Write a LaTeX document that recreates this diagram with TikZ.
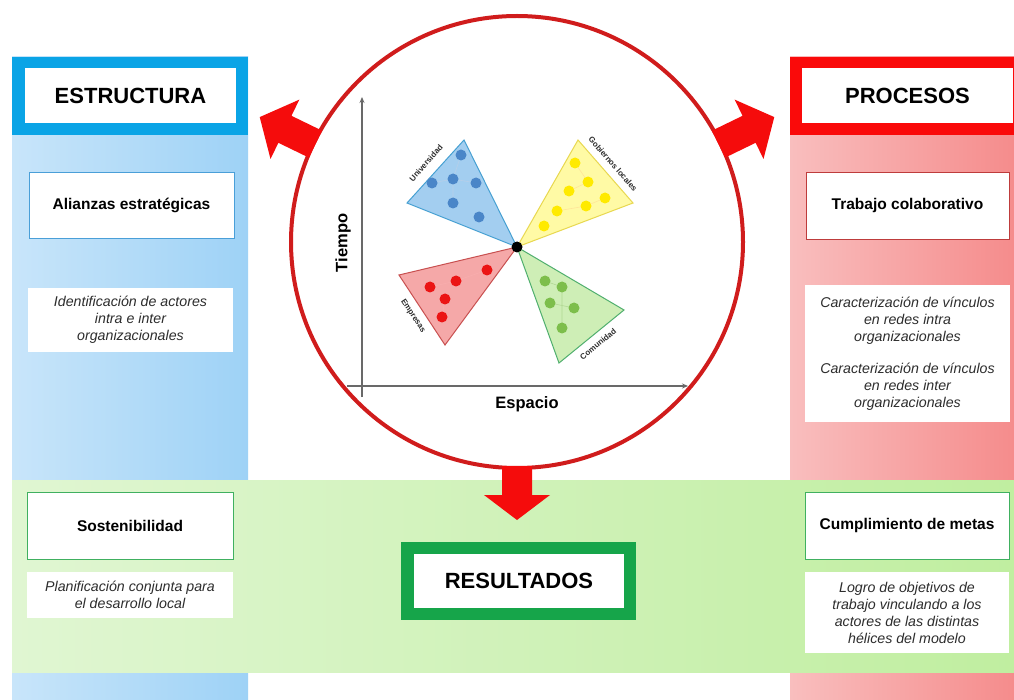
\documentclass[tikz,border=0pt]{standalone}
\usepackage{fontspec}
\setmainfont{Liberation Sans}
\usetikzlibrary{arrows.meta}

\definecolor{bluehead}{RGB}{10,164,230}
\definecolor{bluelight}{RGB}{200,229,250}
\definecolor{bluemid}{RGB}{158,210,246}
\definecolor{blueedge}{RGB}{74,159,216}
\definecolor{redhead}{RGB}{250,10,10}
\definecolor{redlight}{RGB}{249,190,190}
\definecolor{redmid}{RGB}{245,140,140}
\definecolor{rededge}{RGB}{190,60,60}
\definecolor{greenlight}{RGB}{224,246,210}
\definecolor{greenmid}{RGB}{192,238,160}
\definecolor{greenedge}{RGB}{64,176,96}
\definecolor{greenhead}{RGB}{22,165,74}
\definecolor{ringred}{RGB}{208,28,28}
\definecolor{arrowred}{RGB}{245,12,12}
\definecolor{axisgray}{RGB}{105,105,105}
\definecolor{notegray}{RGB}{45,45,45}
% helix wedges
\definecolor{ufill}{RGB}{163,206,240}\definecolor{uedge}{RGB}{70,160,210}\definecolor{udot}{RGB}{74,134,200}
\definecolor{gfill}{RGB}{255,250,165}\definecolor{gedge}{RGB}{232,216,80}\definecolor{gdot}{RGB}{255,234,0}
\definecolor{efill}{RGB}{245,168,168}\definecolor{eedge}{RGB}{200,80,80}\definecolor{edot}{RGB}{235,20,20}
\definecolor{cfill}{RGB}{206,238,182}\definecolor{cedge}{RGB}{80,175,110}\definecolor{cdot}{RGB}{125,190,75}

\begin{document}
\begin{tikzpicture}[x=1pt,y=-1pt,
  whitebox/.style={fill=white,inner sep=0pt,align=center},
  headtext/.style={font=\fontsize{22}{26}\selectfont\bfseries},
  itemtext/.style={font=\fontsize{15.5}{18}\selectfont\bfseries},
  notetext/.style={font=\fontsize{14.2}{17}\selectfont\itshape,text=notegray},
  wedgelabel/.style={font=\fontsize{8}{9}\selectfont\bfseries,text=notegray,inner sep=0pt},
  axislabel/.style={font=\fontsize{16.5}{19}\selectfont\bfseries},
  bigarrow/.style={fill=arrowred},
  dot/.style={radius=5.5}]

\useasboundingbox (0,0) rectangle (1014,700);
\fill[white] (0,0) rectangle (1014,700);

% side columns
\shade[left color=bluelight,right color=bluemid] (12,57) rectangle (248,700);
\fill[bluehead] (12,57) rectangle (248,135);
\shade[left color=redlight,right color=redmid] (790,57) rectangle (1014,700);
\fill[redhead] (790,57) rectangle (1014,135);

% results band
\shade[left color=greenlight,right color=greenmid] (12,480) rectangle (1014,672);

% column headers
\node[whitebox,headtext,minimum width=211,minimum height=55] (estr) at (130.5,95.5) {ESTRUCTURA};
\node[whitebox,headtext,minimum width=211,minimum height=55] (proc) at (907.5,95.5) {PROCESOS};

% estructura items
\node[whitebox,itemtext,draw=blueedge,line width=0.9,minimum width=205,minimum height=66] (alian) at (131.5,205) {Alianzas estratégicas};
\node[whitebox,notetext,minimum width=205,minimum height=64] (ident) at (130.5,320)
  {Identificación de actores\\intra e inter\\organizacionales};

% procesos items
\node[whitebox,itemtext,draw=rededge,line width=0.9,minimum width=203,minimum height=67] (trab) at (907.5,205.5) {Trabajo colaborativo};
\node[whitebox,notetext,minimum width=205,minimum height=137] (carac) at (907.5,353.5)
  {Caracterización de vínculos\\en redes intra\\organizacionales\\[15pt]Caracterización de vínculos\\en redes inter\\organizacionales};

% resultados items
\node[whitebox,itemtext,draw=greenedge,line width=0.9,minimum width=206,minimum height=67] (sost) at (130,525.5) {Sostenibilidad};
\node[whitebox,notetext,minimum width=206,minimum height=46] (plan) at (130,595)
  {Planificación conjunta para\\el desarrollo local};
\node[whitebox,itemtext,draw=greenedge,line width=0.9,minimum width=204,minimum height=67] (cump) at (907,525.5) {Cumplimiento de metas};
\node[whitebox,notetext,minimum width=204,minimum height=81] (logro) at (907,612.5)
  {Logro de objetivos de\\trabajo vinculando a los\\actores de las distintas\\hélices del modelo};

% resultados header
\node[fill=greenhead,minimum width=235,minimum height=78,inner sep=0pt] (resbox) at (518.5,581) {};
\node[whitebox,headtext,minimum width=210,minimum height=54] (res) at (519,581) {RESULTADOS};

% central ring
\node[circle,draw=ringred,fill=white,line width=4,minimum size=452,inner sep=0pt] (ring) at (517,242) {};

% arrows leaving the ring
\begin{scope}[shift={(ring.center)},rotate=154.1]
  \fill[bigarrow] (224,-15) -- (258,-15) -- (258,-33) -- (286,0) -- (258,33) -- (258,15) -- (224,15) -- cycle;
\end{scope}
\begin{scope}[shift={(ring.center)},rotate=25.9]
  \fill[bigarrow] (224,-15) -- (258,-15) -- (258,-33) -- (286,0) -- (258,33) -- (258,15) -- (224,15) -- cycle;
\end{scope}
\begin{scope}[shift={(ring.center)},rotate=-90]
  \fill[bigarrow] (224,-15) -- (253,-15) -- (253,-33) -- (278,0) -- (253,33) -- (253,15) -- (224,15) -- cycle;
\end{scope}

% axes
\coordinate (yb) at (362,397);
\coordinate (yt) at (362,97);
\coordinate (xl) at (347,386);
\coordinate (xr) at (688,386);
\draw[axisgray,line width=1.5,-{Stealth[length=6,width=5]}] (yb) -- (yt);
\draw[axisgray,line width=1.5,-{Stealth[length=6,width=5]}] (xl) -- (xr);
\node[axislabel,rotate=90] (tiempo) at (343,243) {Tiempo};
\node[axislabel] (espacio) at (527,404) {Espacio};

% helix wedges
\coordinate (hub) at (517,247);
\filldraw[fill=ufill,draw=uedge,line width=1] (hub) -- (464,140) -- (407,203) -- cycle;
\filldraw[fill=gfill,draw=gedge,line width=1] (hub) -- (578,140) -- (633,203) -- cycle;
\filldraw[fill=efill,draw=eedge,line width=1] (hub) -- (399,275) -- (445,345) -- cycle;
\filldraw[fill=cfill,draw=cedge,line width=1] (hub) -- (624,310) -- (559,363) -- cycle;

% faint links between actors
\draw[udot!40,line width=0.6] (461,155) -- (453,179) -- (476,183) (453,179) -- (453,203) (432,183) -- (453,179);
\draw[gdot!60!orange!40,line width=0.6] (575,163) -- (588,182) -- (569,191) (605,198) -- (586,206) -- (557,211);
\draw[edot!35,line width=0.6] (487,270) -- (456,281) -- (430,287) (445,299) -- (442,317);
\draw[cdot!60,line width=0.6] (545,281) -- (562,287) -- (562,328) (550,303) -- (574,308);

% actors
\foreach \p in {(461,155),(453,179),(432,183),(476,183),(453,203),(479,217)}
  \fill[udot] \p circle[dot];
\foreach \p in {(575,163),(588,182),(569,191),(605,198),(586,206),(557,211),(544,226)}
  \fill[gdot] \p circle[dot];
\foreach \p in {(487,270),(456,281),(430,287),(445,299),(442,317)}
  \fill[edot] \p circle[dot];
\foreach \p in {(545,281),(562,287),(550,303),(574,308),(562,328)}
  \fill[cdot] \p circle[dot];
\fill[black] (hub) circle[radius=5.5];

% wedge labels
\node[wedgelabel,rotate=48.8] (univ) at (426,163) {Universidad};
\node[wedgelabel,rotate=-48.9] (gob) at (613,164) {Gobiernos locales};
\node[wedgelabel,rotate=-56.7] (emp) at (413,316) {Empresas};
\node[wedgelabel,rotate=39.7] (com) at (598,344) {Comunidad};

\end{tikzpicture}
\end{document}
